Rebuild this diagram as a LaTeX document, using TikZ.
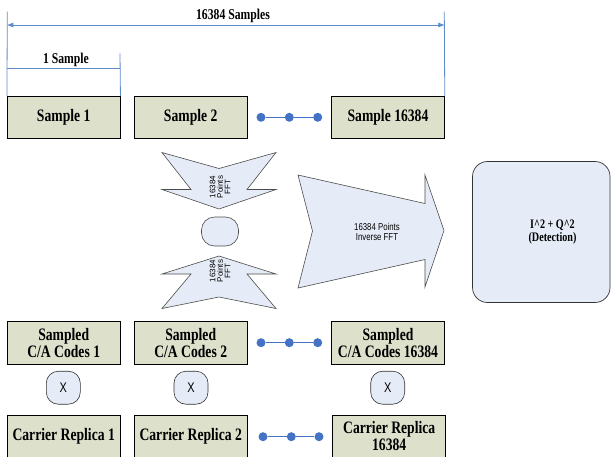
\documentclass[tikz,border=0pt]{standalone}
\usepackage{fontspec}
\setmainfont{Liberation Serif}[FakeStretch=0.78]
\newfontfamily\sansstretch{Liberation Sans}[FakeStretch=0.78]
\newfontfamily\sansplain{Liberation Sans}
\usetikzlibrary{arrows.meta}
\definecolor{boxfill}{RGB}{221,225,204}
\definecolor{shapefill}{RGB}{230,236,247}
\definecolor{dotblue}{RGB}{68,114,196}
\definecolor{dimblue}{RGB}{95,140,205}
\begin{document}
\begin{tikzpicture}[x=1pt,y=-1pt,
  box/.style={draw=black, line width=0.8pt, fill=boxfill, minimum width=112.7pt, minimum height=42pt, inner sep=0pt, align=center, font=\fontsize{17.5}{17}\selectfont\bfseries},
  dot/.style={circle, fill=dotblue, inner sep=0pt, minimum size=9pt},
  dotline/.style={draw=dotblue, line width=1pt},
  xnode/.style={draw=black!80, line width=0.6pt, fill=shapefill, rounded corners=12pt, minimum width=34pt, minimum height=33pt, inner sep=0pt, font=\sansstretch\fontsize{14}{14}\selectfont},
  fftshape/.style={draw=black!70, fill=shapefill, line width=0.6pt},
  dimline/.style={draw=dimblue, line width=0.8pt},
  dimlabel/.style={font=\fontsize{15}{15}\selectfont\bfseries, inner sep=0pt},
  fftlabel/.style={font=\sansplain\fontsize{8}{7.5}\selectfont, align=center, rotate=90, inner sep=0pt},
  arrowlabel/.style={font=\sansstretch\fontsize{10}{10.5}\selectfont, align=center, inner sep=0pt},
  detlabel/.style={font=\fontsize{13}{13.3}\selectfont\bfseries, align=center, inner sep=0pt},
]
\useasboundingbox (0,0) rectangle (611,456);

% sample row
\node[box] (s1) at (63.7,117.5) {Sample 1};
\node[box] (s2) at (190.7,117.5) {Sample 2};
\node[box] (s3) at (388,117.5) {Sample 16384};

% C/A codes row
\node[box, minimum height=42.6pt] (c1) at (63.7,343) {Sampled\\C/A Codes 1};
\node[box, minimum height=42.6pt] (c2) at (190.7,343) {Sampled\\C/A Codes 2};
\node[box, minimum height=42.6pt] (c3) at (388,343) {Sampled\\C/A Codes 16384};

% carrier replica row
\node[box] (r1) at (63.7,436) {Carrier Replica 1};
\node[box] (r2) at (190.7,436) {Carrier Replica 2};
\node[box] (r3) at (389.2,436) {Carrier Replica\\16384};

% multiply nodes
\node[xnode] (x1) at (63.3,387.7) {X};
\node[xnode] (x2) at (191,387.7) {X};
\node[xnode] (x3) at (387.7,387.7) {X};

% dimension lines
\coordinate (tl) at (7.3,11.7);
\coordinate (tr) at (444.3,11.7);
\coordinate (al) at (7.3,25);
\coordinate (ar) at (444.3,25);
\coordinate (ot) at (120,53.3);
\coordinate (ol) at (7.3,68.3);
\coordinate (or) at (120,68.3);
\draw[dimline] (tl) -- (s1.north west);
\draw[dimline] (tr) -- (s3.north east);
\draw[dimline] (ot) -- (s1.north east);
\draw[dimline, {Triangle[length=6pt,width=4.5pt]}-{Triangle[length=6pt,width=4.5pt]}] (al) -- (ar);
\draw[dimline] (ol) -- (or);
\node[dimlabel] (lab16) at (233,16) {16384 Samples};
\node[dimlabel] (lab1) at (66,60) {1 Sample};

% dots
\node[dot] (d11) at (261,117.3) {};
\node[dot] (d12) at (289.3,117.3) {};
\node[dot] (d13) at (317.7,117.3) {};
\node[dot] (d21) at (261,342.7) {};
\node[dot] (d22) at (289.3,342.7) {};
\node[dot] (d23) at (317.7,342.7) {};
\node[dot] (d31) at (263,436.7) {};
\node[dot] (d32) at (291.3,436.7) {};
\node[dot] (d33) at (319,436.7) {};
\draw[dotline] (d11) -- (d12) -- (d13);
\draw[dotline] (d21) -- (d22) -- (d23);
\draw[dotline] (d31) -- (d32) -- (d33);

% top FFT shape
\draw[fftshape] (162,152.5) -- (219,168.5) -- (276,152.5) -- (247,189.5) -- (276,189.5)
  -- (219,209) -- (162,189.5) -- (191,189.5) -- cycle;
\node[fftlabel] (fft1) at (220,187) {16384\\Points\\FFT};

% middle rounded square
\node[draw=black!70, line width=0.6pt, fill=shapefill, rounded corners=13pt, minimum width=37pt, minimum height=29pt] (mid) at (220,231.5) {};

% bottom FFT shape
\draw[fftshape] (219,256) -- (162,274) -- (191,274) -- (162,308.5) -- (219,297)
  -- (276,308.5) -- (247,274) -- (276,274) -- cycle;
\node[fftlabel] (fft2) at (220,271) {16384\\Points\\FFT};

% big inverse FFT arrow
\draw[fftshape] (298,175) -- (425,203.5) -- (425,175) -- (444,230.5) -- (425,287)
  -- (425,259.5) -- (298,288) -- (312.5,231) -- cycle;
\node[arrowlabel] (ifft) at (377,232) {16384 Points\\Inverse FFT};

% detection box
\node[draw=black!80, line width=0.7pt, fill=shapefill, rounded corners=15pt, minimum width=137.5pt, minimum height=141pt] (det) at (541.25,232) {};
\node[detlabel] (dettext) at (552.5,232) {I\textasciicircum2 + Q\textasciicircum2\\(Detection)};
\end{tikzpicture}
\end{document}
